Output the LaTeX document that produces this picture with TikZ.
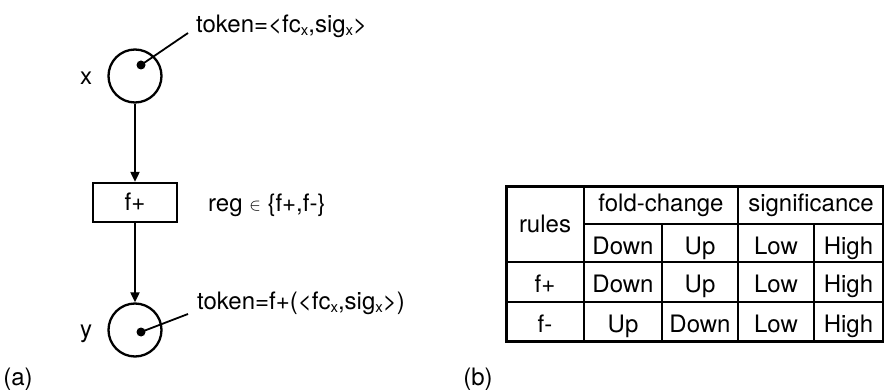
\documentclass[tikz,border=0pt]{standalone}
\usepackage{fontspec}
\setmainfont{TeX Gyre Heros}
\usetikzlibrary{arrows.meta}
\newcommand{\subx}{\raisebox{-3pt}{\fontsize{15}{15}\selectfont x}}
\newcommand{\elem}{\raisebox{1pt}{\fontsize{18}{18}\selectfont$\in$}}
\begin{document}
\begin{tikzpicture}[x=1pt,y=-1pt,
  txt/.style={font=\fontsize{24}{28}\selectfont, inner sep=0pt, anchor=base},
  place/.style={draw, circle, line width=2.3pt, minimum size=53pt, inner sep=0pt},
  trans/.style={draw, rectangle, line width=2.3pt, minimum width=84pt, minimum height=39pt, inner sep=0pt},
  tok/.style={circle, fill=black, minimum size=9pt, inner sep=0pt},
  arc/.style={line width=2pt, -{Triangle[length=10pt,width=9pt]}},
  lead/.style={line width=1.8pt},
  grid/.style={line width=2pt},
  frame/.style={line width=3pt}]
\useasboundingbox (0,0) rectangle (884,390);

% Petri net: place x, transition f+, place y
\node[place] (x) at (135,76) {};
\node[trans] (t) at (135,202.5) {};
\node[place] (y) at (135,330) {};
\node[txt] (tl) at (135,211) {f+};
\node[txt] (xl) at (86,85) {x};
\node[txt] (yl) at (86,337) {y};
\draw[arc] (x) -- (t);
\draw[arc] (t) -- (y);

% tokens and their annotations
\node[tok] (tx) at (141,65) {};
\node[tok] (ty) at (141,332) {};
\coordinate (lx) at (188,33);
\coordinate (ly) at (188,314);
\draw[lead] (tx.center) -- (lx);
\draw[lead] (ty.center) -- (ly);
\node[txt, anchor=base west] (tokx) at (196,33) {token=<fc\subx,sig\subx>};
\node[txt, anchor=base west] (toky) at (197,309) {token=f+(<fc\subx,sig\subx>)};
\node[txt, anchor=base west] (reg) at (208,212) {reg \elem{} \{f+,f-\}};

\node[txt] (la) at (18,385) {(a)};
\node[txt] (lb) at (478,385) {(b)};

% rule table
\draw[grid] (584,224) -- (883,224);
\draw[grid] (506,262) -- (883,262);
\draw[grid] (506,302) -- (883,302);
\draw[grid] (584,187) -- (584,341);
\draw[grid] (738,187) -- (738,341);
\draw[grid] (662,224) -- (662,341);
\draw[grid] (814,224) -- (814,341);
\draw[frame] (506,187) rectangle (883,341);

\node[txt] (c00) at (545,233) {rules};
\node[txt] (c01) at (661,212) {fold-change};
\node[txt] (c02) at (811,212) {significance};
\foreach \r/\y/\b/\c/\d/\e in {1/255/Down/Up/Low/High, 2/293/Down/Up/Low/High, 3/332/Up/Down/Low/High}{
  \node[txt] (r\r b) at (623,\y) {\b};
  \node[txt] (r\r c) at (700,\y) {\c};
  \node[txt] (r\r d) at (776,\y) {\d};
  \node[txt] (r\r e) at (848.5,\y) {\e};
}
\node[txt] (r2a) at (545,293) {f+};
\node[txt] (r3a) at (545,332) {f-};
\end{tikzpicture}
\end{document}
